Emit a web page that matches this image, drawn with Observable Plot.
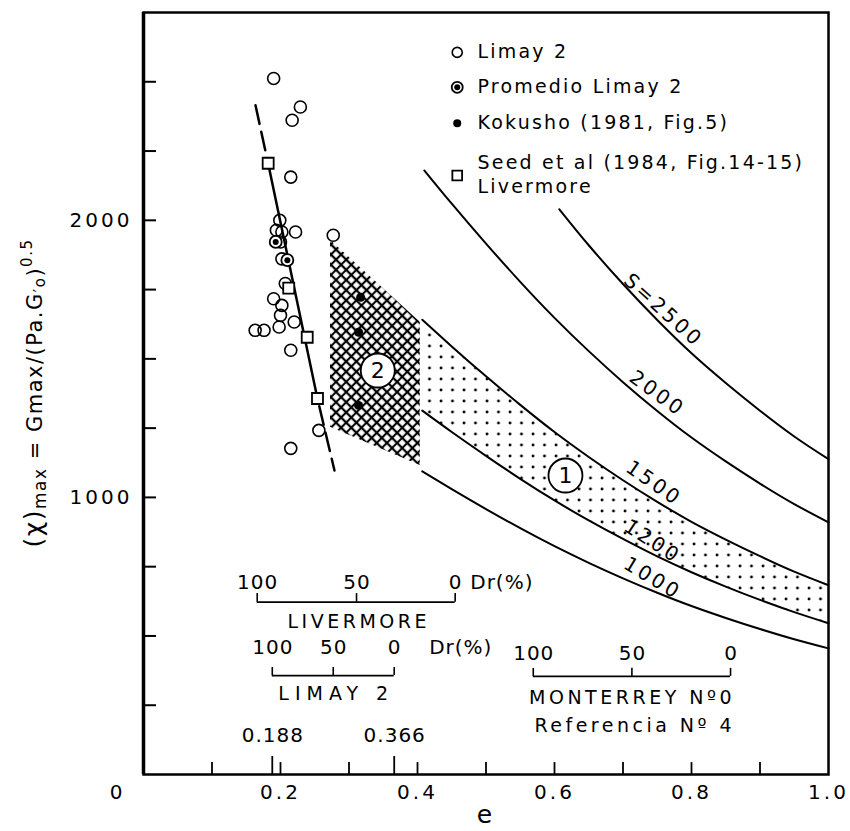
<!DOCTYPE html>
<html><head><meta charset="utf-8">
<script src="https://cdn.jsdelivr.net/npm/d3@7"></script>
<script src="https://cdn.jsdelivr.net/npm/@observablehq/plot@0.6"></script>
<style>
html,body{margin:0;padding:0;background:#fff;}
svg text{letter-spacing:3px;}
svg g[aria-description="nums"] text{letter-spacing:1px;}
svg g[aria-description="legend"] text{letter-spacing:2.2px;}
svg g[aria-description="wide"] text{letter-spacing:6px;}
svg g[aria-description="names"] text{letter-spacing:3.5px;}
</style></head>
<body><div id="chart"></div>
<script>
// ---- curves S = const (e, chi)
const eCurve = [0.407,0.45,0.5,0.55,0.6,0.65,0.7,0.75,0.8,0.85,0.9,0.95,1.0];
const s1000 = [1094,1030,958,889,824,764,708,656,608,565,525,488,455];
const s1200 = [1313,1236,1150,1067,989,917,850,787,730,678,630,586,546];
const s1500 = [1641,1545,1437,1334,1236,1146,1062,984,912,848,788,732,683];
const e2000 = [0.41,0.45,0.5,0.55,0.6,0.65,0.7,0.75,0.8,0.85,0.9,0.95,1.0];
const s2000 = [2180,2060,1916,1778,1648,1528,1416,1312,1216,1130,1050,976,910];
const e2500 = [0.607,0.65,0.7,0.75,0.8,0.85,0.9,0.95,1.0];
const s2500 = [2040,1910,1770,1640,1520,1413,1313,1220,1138];

// curve labels
const curveLabelText = ["S=2500","2000","1500","1200","1000"];
const curveLabelE = [0.759,0.750,0.745,0.743,0.743];
const curveLabelV = [1675,1375,1051,841,708];
const curveLabelRot = [42,36,35,33,31];

// zone 2 (crosshatched)
const zone2E = [0.273,0.404];
const zone2Lo = [1253,1115];
const zone2Hi = [1928,1632];

// points
const limayE = [0.190,0.229,0.217,0.215,0.199,0.194,0.202,0.222,0.200,0.202,0.207,0.190,0.202,0.200,0.163,0.176,0.198,0.220,0.215,0.256,0.215,0.277];
const limayV = [2512,2409,2361,2156,2000,1964,1958,1958,1922,1861,1772,1717,1693,1657,1603,1603,1615,1633,1531,1242,1177,1946];
const promE = [0.193,0.210];
const promV = [1922,1856];
const kokE = [0.317,0.314,0.314];
const kokV = [1722,1596,1332];
const seedE = [0.182,0.212,0.239,0.254];
const seedV = [2206,1755,1578,1357];

// regression line
const regE = [0.1635,0.1819,0.2539,0.2788];
const regV = [2415,2206,1357,1097];

// circled zone labels
const zoneLabel = ["2","1"];
const zoneLabelE = [0.342,0.616];
const zoneLabelV = [1458,1079];

// axes
const xMinorTicks = [0.1,0.2,0.3,0.4,0.5,0.6,0.7,0.8,0.9];
const xMajorMarks = [0.188,0.366];
const xLabelTicks = [0.2,0.4,0.6,0.8,1.0];
const yTicks = [250,500,750,1000,1250,1500,1750,2000,2250,2500];
const yLabelTicks = [1000,2000];

// Dr scales
const livTicksE = [0.166,0.311,0.455];
const livTicksT = ["100","50","0"];
const limTicksE = [0.188,0.277,0.366];
const limTicksT = ["100","50","0"];
const monTicksE = [0.569,0.713,0.857];
const monTicksT = ["100","50","0"];
const eValLabels = ["0.188","0.366"];
const eValE = [0.188,0.366];

// legend
const legendText = ["Limay 2","Promedio Limay 2","Kokusho (1981, Fig.5)","Seed et al (1984, Fig.14-15)","Livermore"];
const legendTextV = [2606,2480,2350,2206,2119];

// ---- build tables
const row = (xs, ys, extra={}) => xs.map((e,i)=>({e, v: ys[i], ...extra}));
const curves = [
  ...row(eCurve, s1000, {S:"1000"}),
  ...row(eCurve, s1200, {S:"1200"}),
  ...row(eCurve, s1500, {S:"1500"}),
  ...row(e2000, s2000, {S:"2000"}),
  ...row(e2500, s2500, {S:"2500"})
];
const zone1 = eCurve.map((e,i)=>({e, lo: s1200[i], hi: s1500[i]}));
const zone2 = zone2E.map((e,i)=>({e, lo: zone2Lo[i], hi: zone2Hi[i]}));
const curveLabels = curveLabelText.map((t,i)=>({t, e: curveLabelE[i], v: curveLabelV[i], rot: curveLabelRot[i]}));
const limay = row(limayE, limayV);
const prom = row(promE, promV);
const kok = row(kokE, kokV);
const seed = row(seedE, seedV);
const reg = row(regE, regV);
const regTop = reg.slice(0,2), regMid = reg.slice(1,3), regBot = reg.slice(2,4);
const zoneLbl = zoneLabel.map((t,i)=>({t, e: zoneLabelE[i], v: zoneLabelV[i]}));

const legendMarkE = 0.458, legendTextE = 0.4876;
const legendMarks = [
  {e: legendMarkE, v: 2606, k: "open"},
  {e: legendMarkE, v: 2480, k: "prom"},
  {e: legendMarkE, v: 2350, k: "kok"},
  {e: legendMarkE, v: 2162, k: "seed"}
];
const legendRows = legendText.map((t,i)=>({t, e: legendTextE, v: legendTextV[i]}));

const scaleSpecs = [
  {ticksE: livTicksE, ticksT: livTicksT, labV: 693, lineV: 622, tickTopV: 653},
  {ticksE: limTicksE, ticksT: limTicksT, labV: 458, lineV: 357, tickTopV: 386},
  {ticksE: monTicksE, ticksT: monTicksT, labV: 437, lineV: 354, tickTopV: 383}
];
const scaleLabels = scaleSpecs.flatMap(s => s.ticksE.map((e,i)=>({e, v: s.labV, t: s.ticksT[i]})));
const scaleLines = scaleSpecs.map(s => ({e1: s.ticksE[0], e2: s.ticksE[2], v: s.lineV}));
const scaleTicks = scaleSpecs.flatMap(s => s.ticksE.map(e => ({e, v1: s.lineV, v2: s.tickTopV})));
const drLabels = [{t:"Dr(%)", e: 0.477, v: 693},{t:"Dr(%)", e: 0.417, v: 458}];
const scaleNames = [
  {t:"LIVERMORE", e:0.312, v:549},
  {t:"MONTERREY N\u00BA0", e:0.711, v:278},
  {t:"Referencia N\u00BA 4", e:0.715, v:177}
];
const scaleNamesWide = [{t:"LIMAY 2", e:0.277, v:292}];
const eVals = eValLabels.map((t,i)=>({t, e: eValE[i], v: 141}));

const fmt1 = d3.format(".1f");

const svg = Plot.plot({
  width: 850, height: 831,
  marginLeft: 143, marginRight: 22, marginTop: 12, marginBottom: 57,
  x: {domain: [0,1], axis: null},
  y: {domain: [0,2750], axis: null},
  style: {fontFamily: "DejaVu Sans", fontSize: "18px", color: "black", background: "white"},
  marks: [
    Plot.areaY(zone1, {x:"e", y1:"lo", y2:"hi", curve:"natural", fill:"url(#dots)"}),
    Plot.areaY(zone2, {x:"e", y1:"lo", y2:"hi", curve:"linear", fill:"url(#xh)"}),
    Plot.line(curves, {x:"e", y:"v", z:"S", curve:"natural", stroke:"black", strokeWidth:2}),
    // regression line
    Plot.line(regTop, {x:"e", y:"v", stroke:"black", strokeWidth:2.5, strokeDasharray:"19,8"}),
    Plot.line(regMid, {x:"e", y:"v", stroke:"black", strokeWidth:2.5}),
    Plot.line(regBot, {x:"e", y:"v", stroke:"black", strokeWidth:2.5, strokeDasharray:"19,8", strokeDashoffset:19}),
    // points
    Plot.dot(limay, {x:"e", y:"v", r:6, stroke:"black", fill:"none", strokeWidth:1.6}),
    Plot.dot(prom, {x:"e", y:"v", r:6, stroke:"black", fill:"white", strokeWidth:1.8}),
    Plot.dot(prom, {x:"e", y:"v", r:3, fill:"black"}),
    Plot.dot(kok, {x:"e", y:"v", r:4.5, fill:"black"}),
    Plot.dot(seed, {x:"e", y:"v", symbol:"square", r:6.2, stroke:"black", fill:"white", strokeWidth:1.8}),
    // zone labels
    Plot.dot(zoneLbl, {x:"e", y:"v", r:17, stroke:"black", fill:"white", strokeWidth:1.8}),
    Plot.text(zoneLbl, {x:"e", y:"v", text:"t", fontSize:22, dx:1.5}),
    // curve labels
    Plot.text(curveLabels, {x:"e", y:"v", text:"t", rotate:"rot", fontSize:20}),
    // frame & ticks
    Plot.frame({stroke:"black", strokeWidth:2.5}),
    Plot.ruleX([0], {stroke:"black", strokeWidth:3.5}),
    Plot.ruleX(xMinorTicks, {x: d=>d, y1: 0, y2: 43, stroke:"black", strokeWidth:1.8}),
    Plot.ruleX(xMajorMarks, {x: d=>d, y1: 0, y2: 65, stroke:"black", strokeWidth:1.8}),
    Plot.ruleY(yTicks, {y: d=>d, x1: 0, x2: 0.019, stroke:"black", strokeWidth:2}),
    Plot.text(xLabelTicks, {x: d=>d, y: 0, text: d=>fmt1(d), dy: 18, fontSize: 20}),
    Plot.text([0], {x: 0, y: 0, text: ()=>"0", dx: -26, dy: 18, fontSize: 20}),
    Plot.text(yLabelTicks, {x: 0, y: d=>d, text: d=>String(d), textAnchor:"end", dx: -11, fontSize: 20}),
    Plot.text(["e"], {x: ()=>0.5, y: ()=>0, text: d=>d, dy: 40, fontSize: 25}),
    // Dr scales
    Plot.ruleY(scaleLines, {y:"v", x1:"e1", x2:"e2", stroke:"black", strokeWidth:1.6}),
    Plot.ruleX(scaleTicks, {x:"e", y1:"v1", y2:"v2", stroke:"black", strokeWidth:1.6}),
    Plot.text(scaleLabels, {x:"e", y:"v", text:"t", fontSize:20, dx:0.5, ariaDescription:"nums"}),
    Plot.text(drLabels, {x:"e", y:"v", text:"t", fontSize:20, textAnchor:"start", ariaDescription:"nums"}),
    Plot.text(scaleNames, {x:"e", y:"v", text:"t", fontSize:19, dx:1.5, ariaDescription:"names"}),
    Plot.text(scaleNamesWide, {x:"e", y:"v", text:"t", fontSize:19, dx:3, ariaDescription:"wide"}),
    Plot.text(eVals, {x:"e", y:"v", text:"t", fontSize:20, dx:0.5, ariaDescription:"nums"}),
    // legend
    Plot.dot(legendMarks.filter(d=>d.k==="open"), {x:"e", y:"v", r:5, stroke:"black", fill:"none", strokeWidth:1.6}),
    Plot.dot(legendMarks.filter(d=>d.k==="prom"), {x:"e", y:"v", r:5.5, stroke:"black", fill:"none", strokeWidth:1.8}),
    Plot.dot(legendMarks.filter(d=>d.k==="prom"), {x:"e", y:"v", r:3, fill:"black"}),
    Plot.dot(legendMarks.filter(d=>d.k==="kok"), {x:"e", y:"v", r:4, fill:"black"}),
    Plot.dot(legendMarks.filter(d=>d.k==="seed"), {x:"e", y:"v", symbol:"square", r:5.5, stroke:"black", fill:"white", strokeWidth:1.8}),
    Plot.text(legendRows, {x:"e", y:"v", text:"t", textAnchor:"start", fontSize:19, ariaDescription:"legend"})
  ]
});

const s = d3.select(svg);
const defs = s.insert("defs", ":first-child");
const xh = defs.append("pattern").attr("id","xh").attr("patternUnits","userSpaceOnUse")
  .attr("width",7.2).attr("height",7.2).attr("patternTransform","rotate(45)");
xh.append("path").attr("d","M0,3.6H7.2M3.6,0V7.2").attr("stroke","black").attr("stroke-width",2.1);
const dots = defs.append("pattern").attr("id","dots").attr("patternUnits","userSpaceOnUse")
  .attr("width",11.5).attr("height",11).attr("x",1).attr("y",2);
dots.append("circle").attr("cx",3).attr("cy",3).attr("r",1.45).attr("fill","black");

// y axis title
const yl = s.append("text")
  .attr("transform","translate(42,393) rotate(-90)")
  .attr("text-anchor","middle")
  .attr("fill","black")
  .style("font-family","DejaVu Sans")
  .style("font-size","21px")
  .style("letter-spacing","1.5px");
yl.append("tspan").style("font-size","25px").text("(\u03C7)");
yl.append("tspan").style("font-size","17px").attr("dy",4).text("max");
yl.append("tspan").attr("dy",-4).text(" = Gmax/(Pa.G");
yl.append("tspan").style("font-size","15px").attr("dy",3).text("\u2032o");
yl.append("tspan").attr("dy",-3).text(")");
yl.append("tspan").style("font-size","15px").attr("dy",-10).text("0.5");

document.getElementById("chart").appendChild(svg);
</script>
</body></html>
